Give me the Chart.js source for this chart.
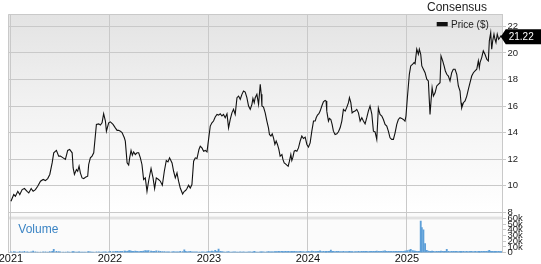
<!DOCTYPE html>
<html><head><meta charset="utf-8">
<script src="https://cdn.jsdelivr.net/npm/chart.js@4.4.1/dist/chart.umd.min.js"></script>
<style>html,body{margin:0;padding:0;background:#fff;}canvas{display:block;}</style>
</head><body>
<canvas id="c" width="541" height="264"></canvas>
<script>
// ---- data (decimal years) ----
const dates = [
2021.000,2021.028,2021.045,2021.069,2021.089,2021.113,2021.136,2021.163,2021.180,2021.204,
2021.224,2021.247,2021.270,2021.298,2021.325,2021.348,2021.371,2021.392,2021.416,2021.432,
2021.459,2021.482,2021.499,2021.527,2021.550,2021.573,2021.593,2021.618,2021.628,2021.641,
2021.661,2021.674,2021.688,2021.701,2021.718,2021.735,2021.752,2021.775,2021.785,2021.802,
2021.819,2021.836,2021.863,2021.886,2021.903,2021.920,2021.936,2021.954,2021.964,2021.987,
2022.004,2022.031,2022.054,2022.072,2022.088,2022.105,2022.122,2022.145,2022.155,2022.173,
2022.189,2022.199,2022.213,2022.226,2022.239,2022.256,2022.273,2022.290,2022.307,2022.323,
2022.340,2022.357,2022.374,2022.390,2022.415,2022.435,2022.451,2022.468,2022.491,2022.509,
2022.529,2022.549,2022.569,2022.586,2022.602,2022.627,2022.643,2022.660,2022.677,2022.693,
2022.710,2022.734,2022.751,2022.764,2022.778,2022.794,2022.811,2022.828,2022.845,2022.862,
2022.879,2022.899,2022.912,2022.929,2022.946,2022.963,2022.980,2022.996,2023.013,2023.030,
2023.046,2023.063,2023.081,2023.097,2023.114,2023.131,2023.147,2023.164,2023.182,2023.198,
2023.215,2023.232,2023.248,2023.265,2023.283,2023.299,2023.316,2023.333,2023.349,2023.366,
2023.383,2023.400,2023.417,2023.434,2023.444,2023.457,2023.467,2023.484,2023.501,2023.518,
2023.528,2023.535,2023.551,2023.568,2023.585,2023.601,2023.611,2023.626,2023.639,2023.652,
2023.666,2023.679,2023.692,2023.706,2023.719,2023.737,2023.747,2023.760,2023.773,2023.787,
2023.800,2023.813,2023.827,2023.837,2023.848,2023.861,2023.874,2023.888,2023.904,2023.921,
2023.938,2023.955,2023.972,2023.989,2024.005,2024.022,2024.039,2024.056,2024.073,2024.083,
2024.096,2024.110,2024.123,2024.140,2024.156,2024.173,2024.183,2024.190,2024.207,2024.217,
2024.231,2024.244,2024.257,2024.274,2024.292,2024.308,2024.325,2024.342,2024.358,2024.376,
2024.393,2024.409,2024.419,2024.433,2024.446,2024.459,2024.476,2024.493,2024.510,2024.527,
2024.544,2024.560,2024.577,2024.594,2024.610,2024.627,2024.645,2024.661,2024.678,2024.695,
2024.711,2024.728,2024.746,2024.762,2024.779,2024.796,2024.812,2024.829,2024.846,2024.863,
2024.880,2024.897,2024.913,2024.930,2024.947,2024.963,2024.980,2024.990,2025.004,2025.024,
2025.038,2025.058,2025.072,2025.082,2025.099,2025.115,2025.125,2025.139,2025.150,2025.166,
2025.183,2025.200,2025.216,2025.233,2025.243,2025.254,2025.267,2025.284,2025.301,2025.317,
2025.334,2025.344,2025.361,2025.375,2025.388,2025.402,2025.418,2025.435,2025.452,2025.468,
2025.486,2025.503,2025.519,2025.536,2025.546,2025.553,2025.570,2025.587,2025.604,2025.620,
2025.637,2025.654,2025.671,2025.688,2025.705,2025.721,2025.731,2025.738,2025.755,2025.771,
2025.788,2025.806,2025.822,2025.832,2025.846,2025.856,2025.866,2025.879,2025.889,2025.899,
2025.912,2025.926,2025.939,2025.950,2025.960
];
const prices = [
8.83,9.34,9.21,9.58,9.34,9.71,9.79,9.58,9.46,9.79,
9.58,9.71,9.96,10.34,10.47,10.39,10.54,10.85,11.72,12.48,
12.66,12.23,12.23,12.10,11.98,12.66,12.73,12.48,11.34,10.85,
11.22,11.09,11.47,10.97,10.59,10.54,10.64,10.72,11.60,12.10,
12.23,12.48,14.62,14.66,14.57,14.74,15.42,14.87,14.11,14.74,
14.81,14.62,14.36,14.17,14.17,14.11,14.00,13.61,13.36,11.72,
11.55,12.10,12.66,12.30,12.55,12.35,12.48,12.48,12.10,11.60,
10.47,10.59,9.58,10.34,11.30,10.59,9.79,10.59,10.47,10.34,
10.04,11.09,11.90,11.80,12.10,11.72,11.09,10.59,10.97,10.34,
9.83,9.38,9.58,9.64,9.79,10.04,9.83,10.09,11.85,12.10,
12.05,12.73,12.98,12.85,12.60,12.66,12.55,13.49,14.49,14.74,
14.87,15.17,15.37,15.32,15.42,15.25,15.37,15.12,15.42,14.36,
14.99,15.49,15.75,15.37,16.63,16.75,16.51,16.88,17.13,17.05,
16.63,16.00,15.75,16.13,16.58,16.25,16.63,16.88,16.13,17.64,
16.88,16.00,15.92,15.49,14.87,14.36,13.86,13.74,13.91,13.61,
13.11,13.36,13.11,12.73,12.23,12.35,11.98,11.72,11.65,11.55,
11.47,11.85,12.35,11.90,12.15,12.60,12.66,12.60,12.85,13.36,
13.74,13.56,13.66,13.11,12.91,13.23,14.11,14.87,14.87,15.12,
15.32,15.42,15.62,16.00,16.32,16.43,16.38,15.62,14.87,15.07,
14.99,14.62,14.11,13.86,13.91,14.06,14.36,14.87,15.75,15.62,
15.92,16.25,16.63,16.25,15.49,15.57,15.62,15.75,15.49,14.87,
15.12,14.87,14.66,15.12,15.62,16.00,15.40,14.11,14.05,13.49,
15.85,15.37,15.25,14.99,14.62,14.49,14.11,13.61,13.49,13.49,
13.98,14.62,14.99,15.12,15.07,14.99,14.87,15.25,16.63,18.39,
19.02,19.15,19.27,19.19,20.28,19.90,20.28,19.90,19.02,18.77,
18.51,18.02,17.89,15.37,16.38,17.38,16.75,17.00,17.51,17.64,
17.76,19.77,19.40,19.02,18.64,18.39,18.26,17.89,18.51,18.77,
18.77,18.39,17.51,17.13,16.25,15.87,16.25,16.38,16.75,17.26,
17.76,18.26,18.51,18.64,18.77,19.40,18.89,19.27,19.65,20.15,
19.90,19.52,19.40,20.91,21.53,20.28,20.91,21.41,21.03,20.78,
21.41,21.03,21.16,21.28,21.22
];
// volume in thousands of shares
const volumes = [
1.5,2.0,1.5,1.2,1.8,1.5,2.5,1.4,1.2,1.6,
2.8,1.5,1.3,1.2,1.4,1.6,1.3,2.0,2.5,6.0,
2.5,1.8,1.4,1.2,1.3,1.5,1.2,1.6,2.0,1.4,
1.3,1.2,1.5,1.2,1.1,1.3,1.2,1.6,1.8,1.4,
1.3,1.2,1.5,1.6,1.3,1.2,1.4,1.5,1.3,1.6,
2.5,2.0,2.2,2.6,1.8,2.3,2.4,2.8,3.0,2.5,
3.2,3.8,2.9,2.6,2.4,2.8,2.3,2.0,2.2,2.5,
3.0,3.5,3.2,3.8,3.0,2.6,2.4,3.2,2.8,2.5,
2.0,1.8,1.6,1.5,1.4,1.6,1.8,1.5,1.6,1.4,
2.2,1.8,5.0,2.6,1.5,2.0,2.3,1.6,1.5,1.7,
1.4,1.3,1.2,1.5,1.4,1.3,1.6,2.5,1.8,3.0,
2.0,4.0,2.2,6.5,2.4,1.8,1.6,1.3,1.5,1.8,
1.3,1.2,1.4,1.6,1.2,1.3,1.5,1.2,1.4,1.3,
1.2,1.4,1.6,1.3,1.2,2.4,1.5,1.3,1.2,1.4,
1.3,1.5,1.4,1.2,1.6,1.8,1.5,1.4,1.7,1.6,
1.8,2.0,1.8,2.2,2.0,2.4,2.0,1.8,2.2,2.0,
2.4,2.0,1.8,2.2,2.0,2.3,1.9,1.8,2.0,2.2,
2.0,1.8,1.6,1.8,2.2,2.0,3.0,2.4,2.0,1.8,
2.6,2.2,3.2,2.0,2.4,2.0,2.2,2.6,2.4,2.2,
4.5,2.4,2.2,2.0,2.4,2.2,2.0,1.8,2.2,2.0,
2.0,1.8,2.2,2.0,1.8,1.6,2.0,1.8,2.2,2.0,
2.2,2.4,2.6,2.2,2.0,2.4,2.2,2.6,2.4,2.8,
2.6,2.4,2.2,2.8,3.2,2.6,2.4,2.2,2.6,2.4,
2.2,2.4,2.6,2.2,2.4,2.6,2.8,3.0,3.5,4.5,
6.0,3.5,2.8,3.0,2.5,2.2,2.6,55,44,40,
16,4.0,3.0,2.6,2.4,2.8,2.2,2.0,2.4,2.6,
2.2,3.0,2.6,2.4,2.2,6.0,2.4,2.0,2.2,2.6,
2.4,2.2,2.0,2.4,2.2,2.6,2.4,2.0,2.2,2.0,
2.2,2.4,2.0,2.2,2.0,2.4,2.2,2.0,2.6,2.4,
2.2,2.6,3.0,4.0,2.6,2.4,2.2,2.0,2.4,2.2,
2.0,2.2,1.8,2.0,1.6
];
const yearTicks = [2021, 2022, 2023, 2024, 2025];
const priceTicks = [8, 10, 12, 14, 16, 18, 20, 22];
const volumeTicks = [0, 10, 20, 30, 40, 50, 60];
const lastPriceLabel = '21.22';
const titleText = 'Consensus';
const legendText = 'Price ($)';
const volumeText = 'Volume';

// ---- styling ----
const FONT = "'Liberation Sans', Arial, Helvetica, sans-serif";
const GRID = '#c9c9c9';
Chart.defaults.font.family = FONT;
Chart.defaults.color = '#222';

const priceData = dates.map((d, i) => ({ x: d, y: prices[i] }));
const volData = dates.map((d, i) => ({ x: d, y: volumes[i] }));
const lastPrice = prices[prices.length - 1];

const decor = {
  id: 'decor',
  beforeDraw(chart) {
    const { ctx, chartArea: a, scales } = chart;
    const yP = scales.y, yV = scales.yv;
    ctx.save();
    const g = ctx.createLinearGradient(0, yP.top, 0, yP.bottom);
    g.addColorStop(0, '#e3e3e3');
    g.addColorStop(0.5, '#f3f3f3');
    g.addColorStop(1, '#ffffff');
    ctx.fillStyle = g;
    ctx.fillRect(a.left, yP.top, a.right - a.left, yP.bottom - yP.top);
    ctx.fillStyle = '#fbfbfb';
    ctx.fillRect(a.left, yV.top, a.right - a.left, yV.bottom - yV.top);
    ctx.fillStyle = '#e2e2e2';
    ctx.fillRect(a.left, yV.top + 4.3, a.right - a.left, 2.8);
    ctx.restore();
  },
  beforeDatasetsDraw(chart) {
    const { ctx, chartArea: a } = chart;
    ctx.save();
    ctx.strokeStyle = GRID;
    ctx.lineWidth = 1;
    ctx.beginPath();
    ctx.moveTo(a.left + 0.5, a.bottom);
    ctx.lineTo(a.left + 0.5, a.top + 0.5);
    ctx.lineTo(a.right, a.top + 0.5);
    ctx.stroke();
    ctx.restore();
  },
  afterDraw(chart) {
    const { ctx, chartArea: a, scales } = chart;
    ctx.save();
    // title
    ctx.fillStyle = '#222';
    ctx.font = '12px ' + FONT;
    ctx.textAlign = 'center';
    ctx.textBaseline = 'alphabetic';
    ctx.fillText(titleText, a.right - 45, 11);
    // legend
    ctx.fillStyle = '#111';
    ctx.fillRect(a.right - 65.3, a.top + 8, 11, 4.3);
    ctx.fillStyle = '#222';
    ctx.font = '10px ' + FONT;
    ctx.textAlign = 'left';
    ctx.fillText(legendText, a.right - 51, a.top + 14.2);
    // last price marker
    const yl = scales.y.getPixelForValue(lastPrice);
    const x0 = a.right - 1.3;
    ctx.fillStyle = '#000';
    ctx.beginPath();
    ctx.moveTo(x0, yl);
    ctx.lineTo(x0 + 5, yl - 7.5);
    ctx.lineTo(chart.width, yl - 7.5);
    ctx.lineTo(chart.width, yl + 7.5);
    ctx.lineTo(x0 + 5, yl + 7.5);
    ctx.closePath();
    ctx.fill();
    ctx.fillStyle = '#fff';
    ctx.font = '10px ' + FONT;
    ctx.textBaseline = 'middle';
    ctx.fillText(lastPriceLabel, x0 + 8, yl + 0.5);
    // volume label
    ctx.fillStyle = '#3b84c4';
    ctx.font = '12px ' + FONT;
    ctx.textBaseline = 'alphabetic';
    ctx.fillText(volumeText, a.left + 10.3, scales.yv.top + 21);
    ctx.restore();
  }
};

new Chart(document.getElementById('c'), {
  type: 'line',
  data: {
    datasets: [
      {
        type: 'line', data: priceData, yAxisID: 'y', xAxisID: 'x',
        borderColor: '#111', borderWidth: 1.1, pointRadius: 0, tension: 0, fill: false
      },
      {
        type: 'bar', data: volData, yAxisID: 'yv', xAxisID: 'x',
        backgroundColor: '#5d9fd8', borderWidth: 0, barThickness: 1.2
      }
    ]
  },
  options: {
    responsive: false, animation: false, devicePixelRatio: 1,
    layout: { padding: { left: 8, top: 14, right: 0, bottom: 0 } },
    plugins: { legend: { display: false }, tooltip: { enabled: false } },
    scales: {
      x: {
        type: 'linear', min: 2020.97, max: 2025.96, offset: false,
        afterBuildTicks: s => { s.ticks = yearTicks.map(v => ({ value: v })); },
        afterFit: s => { s.height = 11.3; s.paddingLeft = 0; s.paddingRight = 0; },
        ticks: { autoSkip: false, maxRotation: 0, padding: 0, font: { size: 11 }, color: '#111', callback: v => String(v) },
        grid: { color: GRID, drawTicks: false, offset: false },
        border: { display: true, color: GRID }
      },
      y: {
        type: 'linear', position: 'right', stack: 'panels', stackWeight: 198.3,
        min: 8, max: 22.93,
        afterBuildTicks: s => { s.ticks = priceTicks.map(v => ({ value: v })); },
        afterFit: s => { s.width = 39; },
        ticks: { autoSkip: false, padding: 1.5, font: { size: 9.5 }, color: '#222', callback: v => String(v) },
        grid: { color: GRID, tickLength: 4 },
        border: { display: true, color: GRID }
      },
      yv: {
        type: 'linear', position: 'right', stack: 'panels', stackWeight: 40.4,
        min: 0, max: 70.5,
        afterBuildTicks: s => { s.ticks = volumeTicks.map(v => ({ value: v })); },
        afterFit: s => { s.width = 39; },
        ticks: { autoSkip: false, padding: 1.5, font: { size: 9.5 }, color: '#222', callback: v => v === 0 ? '0' : v + 'k' },
        grid: { color: GRID, tickLength: 4, drawOnChartArea: false },
        border: { display: true, color: GRID }
      }
    }
  },
  plugins: [decor]
});
</script>
</body></html>
